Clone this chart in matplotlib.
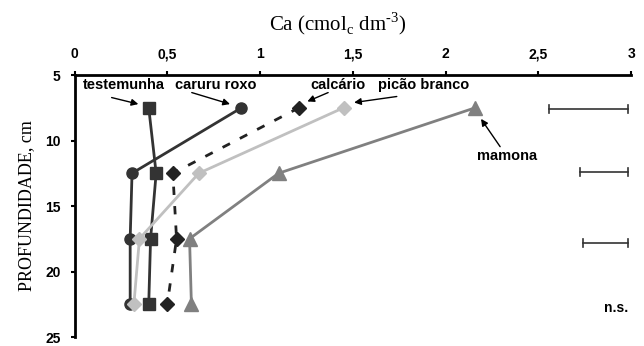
import matplotlib
matplotlib.use("Agg")
import matplotlib.pyplot as plt

depth = [7.5, 12.5, 17.5, 22.5]

testemunha = [0.40, 0.44, 0.41, 0.40]
caruru_roxo = [0.90, 0.31, 0.30, 0.30]
calcario = [1.21, 0.53, 0.55, 0.50]
picao_branco = [1.45, 0.67, 0.35, 0.32]
mamona = [2.16, 1.10, 0.62, 0.63]

# LSD bars on the right: depth, left end, right end
dms_depth = [7.6, 12.4, 17.8]
dms_left = [2.56, 2.725, 2.74]
dms_right = [2.985, 2.985, 2.985]

xticks = [0, 0.5, 1, 1.5, 2, 2.5, 3]
xtick_labels = ["0", "0,5", "1", "1,5", "2", "2,5", "3"]
yticks = [5, 10, 15, 20, 25]

bold = dict(family="Liberation Sans", weight="bold", size=10)
lab = dict(family="Liberation Sans", weight="bold", size=10.5)
serif = "Liberation Serif"

fig = plt.figure(figsize=(6.44, 3.46), dpi=100)
ax = fig.add_axes([0.1157, 0.026, 0.98 - 0.1157, 0.7832 - 0.026])

ax.plot(caruru_roxo, depth, color="#333333", lw=2, marker="o", ms=8, zorder=3)
ax.plot(testemunha, depth, color="#333333", lw=2, marker="s", ms=9, zorder=3)
ax.plot(calcario, depth, color="#222222", lw=2, ls=(0, (3, 4)), marker="D", ms=7, zorder=3)
ax.plot(picao_branco, depth, color="#c0c0c0", lw=2, marker="D", ms=7, zorder=3)
ax.plot(mamona, depth, color="#808080", lw=2, marker="^", ms=9.5, zorder=3)

for yv, x0, x1 in zip(dms_depth, dms_left, dms_right):
    ax.plot([x0, x1], [yv, yv], color="#333333", lw=1.2)
    ax.plot([x0, x0], [yv - 0.3, yv + 0.3], color="#333333", lw=1.2)
    ax.plot([x1, x1], [yv - 0.3, yv + 0.3], color="#333333", lw=1.2)

ax.text(2.985, 22.8, "n.s.", ha="right", va="center", **bold)

# series labels with arrows
labels = [
    ("testemunha", (0.265, 5.76), (0.20, 6.72), (0.344, 7.22)),
    ("caruru roxo", (0.762, 5.76), (0.632, 6.34), (0.838, 7.22)),
    ("calcário", (1.418, 5.76), (1.367, 6.34), (1.255, 7.02)),
    ("picão branco", (1.879, 5.76), (1.737, 6.64), (1.507, 7.10)),
    ("mamona", (2.334, 11.18), (2.294, 10.47), (2.191, 8.35)),
]
for txt, pos, tail, head in labels:
    ax.text(pos[0], pos[1], txt, ha="center", va="center", **lab)
    ax.annotate("", xy=head, xytext=tail,
                arrowprops=dict(arrowstyle="-|>", color="black", lw=1,
                                mutation_scale=10, shrinkA=0, shrinkB=0))

ax.set_xlim(0, 3)
ax.set_ylim(25, 5)
ax.xaxis.tick_top()
ax.xaxis.set_label_position("top")
ax.set_xticks(xticks)
ax.set_xticklabels(xtick_labels, fontdict=bold)
ax.set_yticks(yticks)
ax.set_yticklabels([str(v) for v in yticks], fontdict=bold)
ax.tick_params(direction="out", length=3, width=1.5, pad=7)

for side in ["right", "bottom"]:
    ax.spines[side].set_visible(False)
for side in ["top", "left"]:
    ax.spines[side].set_linewidth(2)

ax.set_xlabel("Ca (cmol$_\\mathregular{c}$ dm$^\\mathregular{\u2010 3}$)",
              family=serif, size=15)
ax.xaxis.set_label_coords(0.472, 1.17)
ax.set_ylabel("PROFUNDIDADE, cm", family=serif, size=13, labelpad=7)

fig.savefig("out.png", dpi=100)
